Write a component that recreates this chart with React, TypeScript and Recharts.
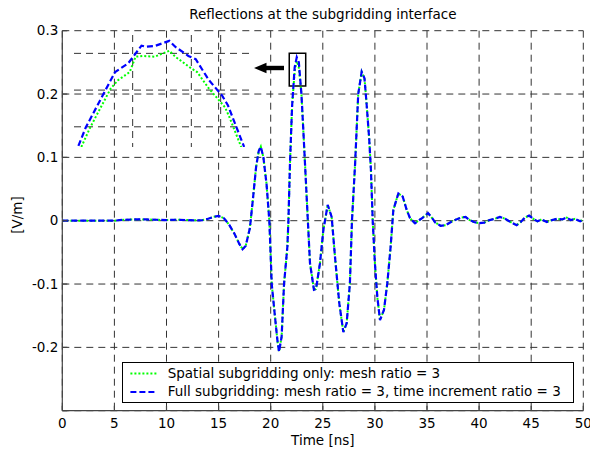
import React from 'react';
import { LineChart, Line, XAxis, YAxis, CartesianGrid, ReferenceArea } from 'recharts';

const FONT = '"DejaVu Sans", Verdana, sans-serif';

// time axis [ns] shared by both traces
const timeNs = [
  0, 1, 2, 3, 4, 5, 5.5, 6, 7, 8,
  9, 10, 11, 12, 13, 13.5, 14, 14.5, 15, 15.5,
  16, 16.5, 17, 17.3, 17.6, 18, 18.3, 18.6, 18.85, 19.05,
  19.3, 19.6, 19.87, 20.1, 20.4, 20.65, 20.8, 21.05, 21.28, 21.6,
  21.7, 21.85, 22.05, 22.3, 22.5, 22.7, 22.95, 23.13, 23.45, 23.77,
  24.15, 24.35, 24.73, 25.05, 25.47, 25.85, 26.17, 26.58, 26.97, 27.29,
  27.6, 27.8, 28.1, 28.4, 28.73, 29.0, 29.2, 29.45, 29.62, 29.79,
  30.0, 30.23, 30.49, 30.87, 31.19, 31.51, 31.77, 32.25, 32.67, 33.05,
  33.37, 33.85, 34.17, 34.6, 35.1, 35.5, 35.8, 36.3, 36.8, 37.3,
  37.8, 38.3, 38.7, 39.1, 39.5, 40, 40.5, 41, 41.5, 42,
  42.5, 43, 43.6, 44, 44.4, 44.8, 45.2, 45.6, 46, 46.5,
  47, 47.5, 48, 48.4, 48.8, 49.2, 49.7, 50,
];

// spatial subgridding only
const spatialOnly = [
  0, 0, 0, 0, 0, 0, 0.001, 0.0015, 0.002, 0.002,
  0.0015, 0.001, 0.0015, 0.001, 0.0005, 0.001, 0.003, 0.006, 0.0075, 0.004,
  -0.006, -0.02, -0.037, -0.045, -0.04, -0.012, 0.035, 0.085, 0.11, 0.117,
  0.1, 0.058, 0.0, -0.1, -0.15, -0.19, -0.207, -0.183, -0.1, -0.041,
  0.0, 0.09, 0.18, 0.236, 0.252, 0.242, 0.2, 0.143, 0.038, -0.067,
  -0.109, -0.108, -0.067, -0.015, 0.025, 0.006, -0.057, -0.13, -0.176, -0.162,
  -0.099, 0.0, 0.09, 0.2, 0.235, 0.225, 0.185, 0.13, 0.08, 0.0,
  -0.067, -0.12, -0.157, -0.141, -0.099, -0.041, 0.017, 0.043, 0.038, 0.017,
  0.004, -0.004, 0.0, 0.005, 0.012, 0.004, -0.003, -0.008, -0.007, -0.002,
  0.002, 0.005, 0.006, 0.001, -0.002, -0.004, -0.003, 0.001, 0.003, 0.006,
  0.003, -0.002, -0.007, -0.002, 0.005, 0.008, 0.003, -0.001, 0.002, -0.002,
  0.001, 0.003, 0.002, 0.005, 0.001, 0.003, -0.001, 0.002,
];

// full subgridding (space + time)
const fullSubgrid = [
  0, 0, 0, 0, 0, 0, 0.001, 0.0015, 0.002, 0.002,
  0.0015, 0.001, 0.0015, 0.001, 0.0005, 0.001, 0.003, 0.006, 0.0075, 0.004,
  -0.006, -0.02, -0.037, -0.045, -0.04, -0.012, 0.035, 0.085, 0.11, 0.117,
  0.1, 0.058, 0.0, -0.1, -0.15, -0.19, -0.207, -0.183, -0.1, -0.041,
  0.0, 0.09, 0.18, 0.242, 0.258, 0.25, 0.2, 0.143, 0.038, -0.067,
  -0.109, -0.108, -0.067, -0.015, 0.025, 0.006, -0.057, -0.13, -0.176, -0.162,
  -0.099, 0.0, 0.09, 0.2, 0.235, 0.225, 0.185, 0.13, 0.08, 0.0,
  -0.067, -0.12, -0.157, -0.141, -0.099, -0.041, 0.017, 0.043, 0.038, 0.017,
  0.004, -0.004, 0.0, 0.005, 0.012, 0.004, -0.003, -0.008, -0.007, -0.002,
  0.002, 0.005, 0.006, 0.001, -0.002, -0.004, -0.003, 0.001, 0.003, 0.006,
  0.003, -0.002, -0.007, -0.002, 0.005, 0.008, 0.003, -0.001, 0.002, -0.002,
  0.001, 0.003, 0.002, 0.005, 0.001, 0.003, -0.001, 0.002,
];

const xTicks = [0, 5, 10, 15, 20, 25, 30, 35, 40, 45, 50];
const yTicks = [-0.3, -0.2, -0.1, 0, 0.1, 0.2, 0.3];

// zoomed view of the main peak (inset)
const insetSpatialT = [22.05, 22.11, 22.25, 22.3, 22.38, 22.42, 22.47, 22.55, 22.65, 22.69, 22.8, 22.84, 22.92, 23.03, 23.06, 23.14];
const insetSpatialV = [0.2295, 0.2348, 0.2454, 0.2477, 0.2499, 0.2541, 0.2543, 0.2541, 0.2557, 0.2541, 0.2509, 0.2499, 0.2454, 0.2403, 0.2376, 0.2295];
const insetFullT = [22.03, 22.08, 22.22, 22.28, 22.37, 22.46, 22.49, 22.55, 22.65, 22.69, 22.78, 22.83, 22.92, 23.01, 23.05, 23.16];
const insetFullV = [0.2298, 0.2348, 0.2454, 0.2499, 0.2523, 0.2571, 0.2568, 0.257, 0.2584, 0.2568, 0.2543, 0.2534, 0.2477, 0.2435, 0.2408, 0.2295];
const insetXTicks = [22.2, 22.4, 22.6, 22.8, 23.0];
const insetYTicks = [0.23, 0.235, 0.24, 0.245, 0.25, 0.255];

const mainData = timeNs.map((t, i) => ({ t, spatial: spatialOnly[i], full: fullSubgrid[i] }));
const insetSpatial = insetSpatialT.map((t, i) => ({ t, v: insetSpatialV[i] }));
const insetFull = insetFullT.map((t, i) => ({ t, v: insetFullV[i] }));

const tickStyle = { fontSize: 13.5, fill: '#000', fontFamily: FONT };

export default function App() {
  return (
    <div style={{ position: 'absolute', left: 0, top: 0, width: 590, height: 452, background: '#fff', fontFamily: FONT }}>
      <div style={{ position: 'absolute', left: 0, top: 0 }}>
        <LineChart width={590} height={452} data={mainData} margin={{ top: 30.7, right: 6.7, bottom: 10, left: 0 }}>
          <CartesianGrid stroke="#333" strokeDasharray="7 5" />
          <XAxis
            dataKey="t"
            type="number"
            domain={[0, 50]}
            ticks={xTicks}
            interval={0}
            height={31.3}
            tickSize={-5}
            tickMargin={13}
            stroke="#444"
            strokeWidth={1.2}
            tick={tickStyle}
          />
          <YAxis
            type="number"
            domain={[-0.3, 0.3]}
            ticks={yTicks}
            interval={0}
            width={62.3}
            tickSize={-5}
            tickMargin={9}
            stroke="#444"
            strokeWidth={1.2}
            tick={tickStyle}
            tickFormatter={(v: number) => (v === -0.3 ? '' : String(v))}
          />
          <ReferenceArea x1={21.78} x2={23.36} y1={0.2127} y2={0.2643} fill="none" fillOpacity={0} stroke="#000" strokeWidth={1.5} />
          <Line type="linear" dataKey="spatial" stroke="#00ff00" strokeWidth={2} strokeDasharray="2 2" dot={false} isAnimationActive={false} />
          <Line type="linear" dataKey="full" stroke="#0000ff" strokeWidth={2.2} strokeDasharray="6 3" dot={false} isAnimationActive={false} />
        </LineChart>
      </div>

      {/* inset with the zoomed peak */}
      <div style={{ position: 'absolute', left: 74, top: 35 }}>
        <LineChart width={176} height={112} margin={{ top: 0, right: 0, bottom: 0, left: 0 }}>
          <CartesianGrid stroke="#333" strokeDasharray="7 5" horizontalValues={insetYTicks} verticalValues={insetXTicks} />
          <XAxis dataKey="t" type="number" domain={[22.0, 23.2]} ticks={insetXTicks} hide />
          <YAxis type="number" domain={[0.2295, 0.26]} ticks={insetYTicks} hide />
          <Line data={insetSpatial} type="linear" dataKey="v" stroke="#00ff00" strokeWidth={2} strokeDasharray="2 2" dot={false} isAnimationActive={false} />
          <Line data={insetFull} type="linear" dataKey="v" stroke="#0000ff" strokeWidth={2.2} strokeDasharray="6 3" dot={false} isAnimationActive={false} />
        </LineChart>
      </div>

      {/* title, axis labels, arrow */}
      <svg width={590} height={452} style={{ position: 'absolute', left: 0, top: 0, pointerEvents: 'none' }}>
        <text x={322.8} y={19} textAnchor="middle" fontSize={13.5} fontFamily={FONT} fill="#000">
          Reflections at the subgridding interface
        </text>
        <text x={322.8} y={445} textAnchor="middle" fontSize={13.5} fontFamily={FONT} fill="#000">
          Time [ns]
        </text>
        <text x={22} y={215} textAnchor="middle" fontSize={13.5} fontFamily={FONT} fill="#000" transform="rotate(-90 22 215)">
          [V/m]
        </text>
        <polygon points="254,68 266.5,62.8 266.5,73.2" fill="#000" />
        <rect x={266} y={65.8} width={18} height={4.4} fill="#000" />
      </svg>

      {/* legend */}
      <div
        style={{
          position: 'absolute',
          left: 122.3,
          top: 361.7,
          width: 452,
          height: 41,
          boxSizing: 'border-box',
          border: '1.2px solid #000',
          background: '#fff',
        }}
      >
        <svg width={452} height={41} style={{ position: 'absolute', left: -1.2, top: -1.2 }}>
          <line x1={8.4} x2={34.4} y1={11.6} y2={11.6} stroke="#00ff00" strokeWidth={2} strokeDasharray="2 2" />
          <line x1={8.4} x2={34.4} y1={30} y2={30} stroke="#0000ff" strokeWidth={2.2} strokeDasharray="6 3" />
          <text x={45.7} y={16} fontSize={13.5} fontFamily={FONT} fill="#000">
            Spatial subgridding only: mesh ratio = 3
          </text>
          <text x={45.7} y={34.2} fontSize={13.5} fontFamily={FONT} fill="#000">
            Full subgridding: mesh ratio = 3, time increment ratio = 3
          </text>
        </svg>
      </div>
    </div>
  );
}
